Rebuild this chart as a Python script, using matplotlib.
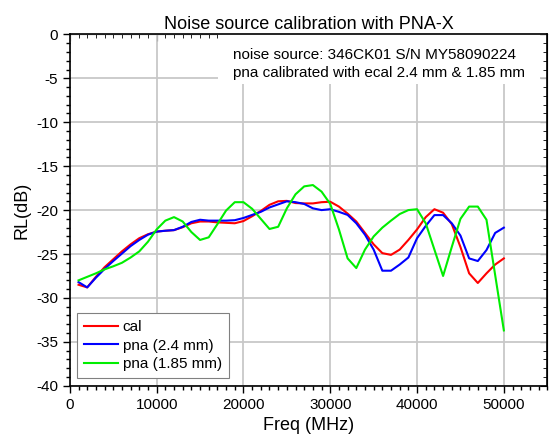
import matplotlib
matplotlib.use("Agg")
import matplotlib.pyplot as plt
from matplotlib.ticker import MultipleLocator
from matplotlib.patches import Rectangle

plt.rcParams['font.family'] = ['Liberation Sans', 'DejaVu Sans']
plt.rcParams['axes.unicode_minus'] = False

freq = [1000, 2000, 3000, 4000, 5000, 6000, 7000, 8000, 9000, 10000,
        11000, 12000, 13000, 14000, 15000, 16000, 17000, 18000, 19000, 20000,
        21000, 22000, 23000, 24000, 25000, 26000, 27000, 28000, 29000, 30000,
        31000, 32000, 33000, 34000, 35000, 36000, 37000, 38000, 39000, 40000,
        41000, 42000, 43000, 44000, 45000, 46000, 47000, 48000, 49000, 50000]

cal = [-28.5, -28.8, -27.6, -26.5, -25.6, -24.7, -23.9, -23.2, -22.75, -22.45,
       -22.35, -22.28, -21.95, -21.5, -21.3, -21.3, -21.4, -21.45, -21.5, -21.25,
       -20.7, -20.1, -19.4, -19.0, -18.95, -19.2, -19.24, -19.24, -19.1, -19.05,
       -19.6, -20.4, -21.3, -22.6, -23.9, -24.9, -25.1, -24.5, -23.4, -22.2,
       -20.8, -19.9, -20.3, -21.6, -24.2, -27.2, -28.3, -27.2, -26.2, -25.5]

pna_24 = [-28.2, -28.8, -27.7, -26.7, -25.8, -24.95, -24.1, -23.4, -22.8, -22.45,
          -22.35, -22.28, -21.9, -21.35, -21.1, -21.2, -21.2, -21.2, -21.15, -20.9,
          -20.55, -20.2, -19.7, -19.35, -19.0, -19.1, -19.3, -19.8, -20.0, -19.9,
          -20.2, -20.55, -21.5, -22.8, -24.5, -26.9, -26.9, -26.2, -25.4, -23.2,
          -21.8, -20.57, -20.57, -21.5, -22.9, -25.5, -25.8, -24.55, -22.6, -22.0]

pna_185 = [-28.0, -27.6, -27.2, -26.75, -26.4, -26.0, -25.4, -24.7, -23.6, -22.2,
           -21.2, -20.8, -21.3, -22.5, -23.4, -23.1, -21.6, -20.05, -19.1, -19.1,
           -19.85, -21.0, -22.15, -21.9, -19.8, -18.2, -17.3, -17.15, -17.9, -19.3,
           -22.2, -25.5, -26.6, -24.5, -23.0, -22.0, -21.2, -20.45, -20.0, -19.9,
           -21.5, -24.5, -27.5, -24.2, -21.0, -19.6, -19.6, -21.1, -27.4, -33.7]

note = "noise source: 346CK01 S/N MY58090224\npna calibrated with ecal 2.4 mm & 1.85 mm"

fig = plt.figure(figsize=(5.5, 4.47), dpi=100)
ax = fig.add_axes([0.127, 0.137, 0.868, 0.786])

ax.plot(freq, cal, color='#ff0000', lw=1.5, label='cal', zorder=3)
ax.plot(freq, pna_24, color='#0000ff', lw=1.5, label='pna (2.4 mm)', zorder=3)
ax.plot(freq, pna_185, color='#00ee00', lw=1.5, label='pna (1.85 mm)', zorder=3)

ax.set_xlim(0, 55000)
ax.set_ylim(-40, 0)
ax.xaxis.set_major_locator(MultipleLocator(10000))
ax.xaxis.set_minor_locator(MultipleLocator(1000))
ax.yaxis.set_major_locator(MultipleLocator(5))
ax.yaxis.set_minor_locator(MultipleLocator(1))
ax.grid(True, which='major', color='#c8c8c8', lw=1.3)
ax.set_axisbelow(True)

ax.tick_params(which='both', direction='out', top=False, right=False, labelsize=11, width=1)
ax.tick_params(which='major', length=5)
ax.tick_params(which='minor', length=3)
ax2 = ax.secondary_xaxis('top')
ax2.xaxis.set_major_locator(MultipleLocator(10000))
ax2.xaxis.set_minor_locator(MultipleLocator(1000))
ax2.tick_params(which='both', direction='in', labeltop=False)
ax2.tick_params(which='major', length=5)
ax2.tick_params(which='minor', length=3)
ax3 = ax.secondary_yaxis('right')
ax3.yaxis.set_major_locator(MultipleLocator(5))
ax3.yaxis.set_minor_locator(MultipleLocator(1))
ax3.tick_params(which='both', direction='in', labelright=False)
ax3.tick_params(which='major', length=5)
ax3.tick_params(which='minor', length=3)
for s in ax.spines.values():
    s.set_linewidth(1.2)

ax.set_xlabel('Freq (MHz)', fontsize=13)
ax.set_ylabel('RL(dB)', fontsize=13)
ax.set_title('Noise source calibration with PNA-X', fontsize=13, pad=4)

# white box behind the note, hides the grid
ax.add_patch(Rectangle((0.31, 0.859), 0.675, 0.141, transform=ax.transAxes,
                       facecolor='white', edgecolor='none', zorder=1))
ax.text(0.342, 0.96, note, transform=ax.transAxes, fontsize=11, va='top', ha='left',
        linespacing=1.33, zorder=2)

leg = ax.legend(loc='lower left', fontsize=11, fancybox=False, edgecolor='#808080',
                framealpha=1, handlelength=2.2, handletextpad=0.3, borderpad=0.45,
                labelspacing=0.3, borderaxespad=0.5)
leg.get_frame().set_linewidth(0.8)

fig.savefig('out.png', dpi=100)
